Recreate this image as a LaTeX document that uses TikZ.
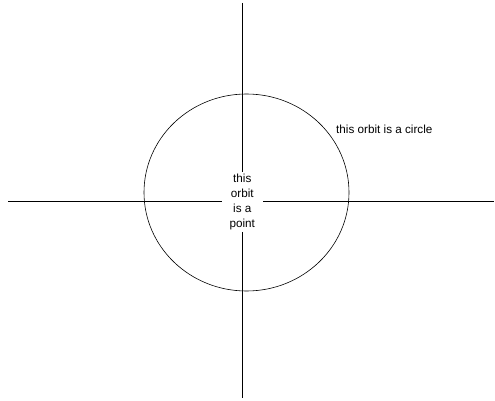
\documentclass[tikz,border=0pt]{standalone}
\usepackage{fontspec}
\setmainfont{Liberation Sans}
\begin{document}
\begin{tikzpicture}[
x=1pt, y=-1pt,
every node/.style={font=\fontsize{11.7}{15}\selectfont, inner sep=0pt},
axis/.style={line width=0.8pt},
orbitline/.style={line width=0.6pt}
]
\useasboundingbox (0,0) rectangle (495,401);
\coordinate (ytop) at (242.3,3);
\coordinate (ybot) at (242.3,398);
\coordinate (xleft) at (8,201.7);
\coordinate (xright) at (494,201.7);
\coordinate (centre) at (246.5,192.5);
\node (point) [align=center, minimum width=41pt, minimum height=60pt] at (242.3,201.7) {this\\orbit\\is a\\point};
\node (circlelabel) [anchor=base west] at (336,134) {this orbit is a circle};
\draw[orbitline] (centre) ellipse [x radius=102.5pt, y radius=98.5pt];
\draw[axis] (ytop) -- (point);
\draw[axis] (point) -- (ybot);
\draw[axis] (xleft) -- (point);
\draw[axis] (point) -- (xright);
\end{tikzpicture}
\end{document}
